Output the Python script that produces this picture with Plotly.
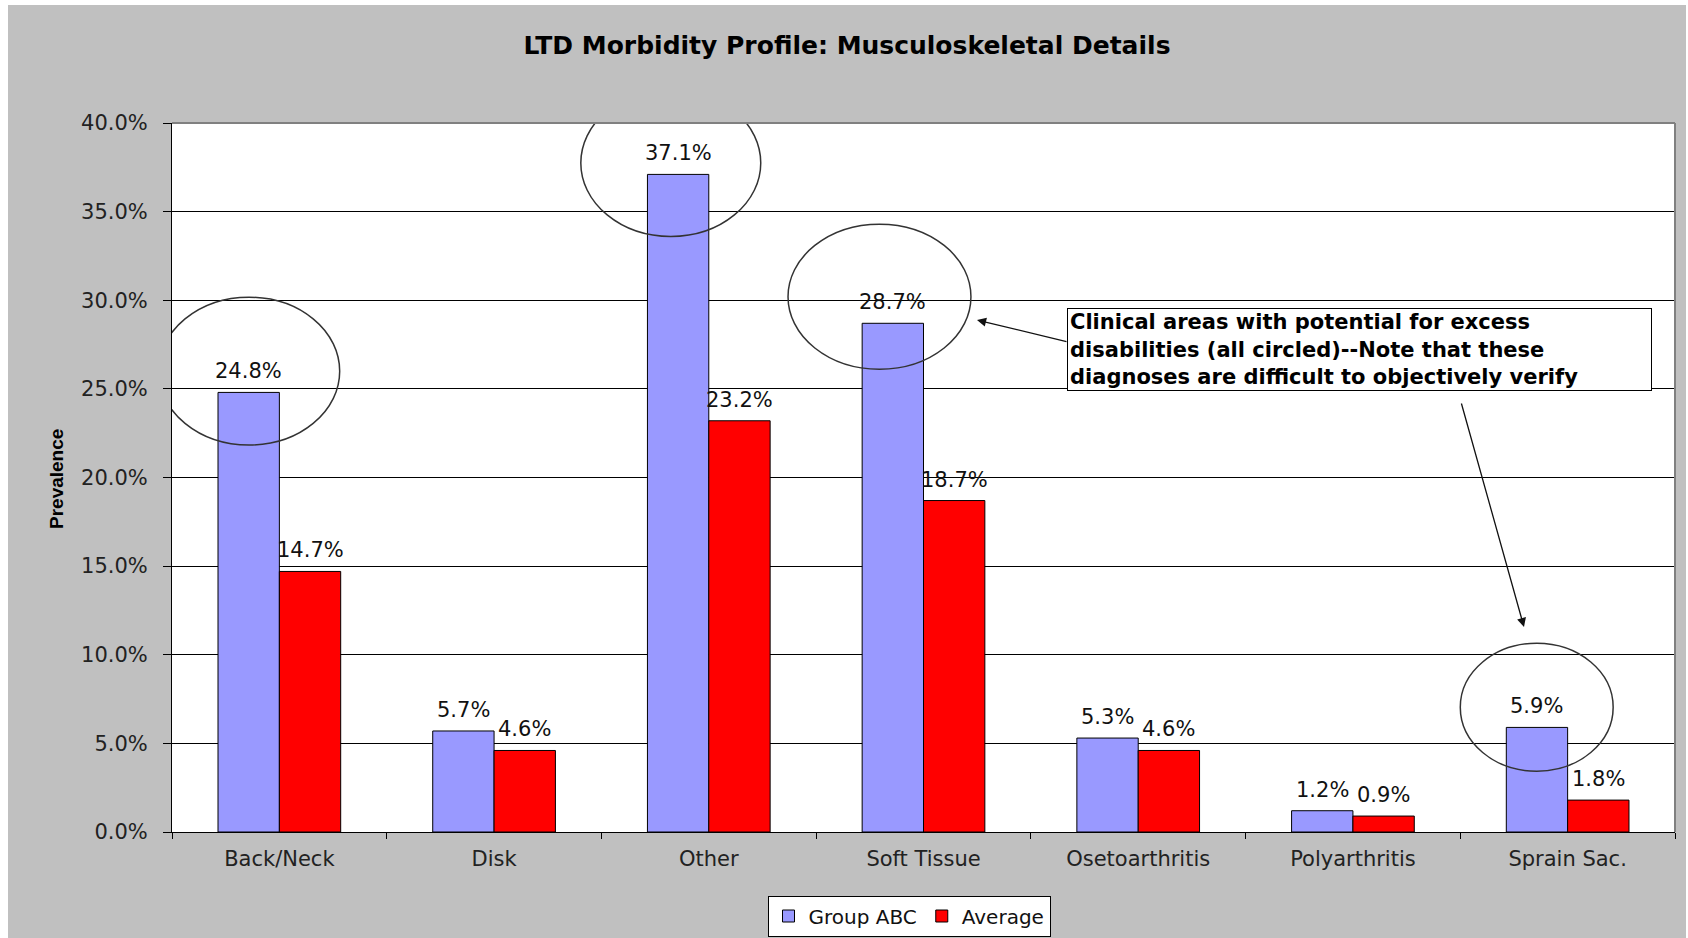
import plotly.graph_objects as go

# ---- data -------------------------------------------------------------
categories = ["Back/Neck", "Disk", "Other", "Soft Tissue",
              "Osetoarthritis", "Polyarthritis", "Sprain Sac."]
group_abc = [24.8, 5.7, 37.1, 28.7, 5.3, 1.2, 5.9]
average = [14.7, 4.6, 23.2, 18.7, 4.6, 0.9, 1.8]
y_ticks = [0, 5, 10, 15, 20, 25, 30, 35, 40]
y_tick_labels = [f"{v:.1f}%" for v in y_ticks]
circled = ["Back/Neck", "Other", "Soft Tissue", "Sprain Sac."]
note_text = ("Clinical areas with potential for excess<br>"
             "disabilities (all circled)--Note that these<br>"
             "diagnoses are difficult to objectively verify")

# ---- figure geometry (pixels) ------------------------------------------
W, H = 1688, 938
L, R, T, B = 172, 13, 123, 106
PW, PH = W - L - R, H - T - B

def xp(px):
    return (px - L) / PW

def yp(py):
    return (H - B - py) / PH

BLUE = "#9999FF"
RED = "#FF0000"
GREY_BG = "#C0C0C0"
FONT = "DejaVu Sans"
BARGAP = 1.5 / 3.5            # 150% gap width
HALF = (1 - BARGAP) / 4       # offset of each bar centre from category centre

fig = go.Figure()
fig.add_trace(go.Bar(name="Group ABC", x=categories, y=group_abc,
                     marker=dict(color=BLUE, line=dict(color="black", width=1))))
fig.add_trace(go.Bar(name="Average", x=categories, y=average,
                     marker=dict(color=RED, line=dict(color="black", width=1))))

annotations = []
# value labels above each bar
for vals, off in ((group_abc, -HALF), (average, HALF)):
    for i, v in enumerate(vals):
        annotations.append(dict(x=i + off, y=v, xref="x", yref="y",
                                text=f"{v:.1f}%", showarrow=False,
                                xanchor="center", yanchor="bottom", yshift=7,
                                font=dict(family=FONT, size=21, color="#111")))

# y axis title
annotations.append(dict(x=xp(56), y=yp(479), xref="paper", yref="paper",
                        xanchor="center", yanchor="middle",
                        text="<b>Prevalence</b>", textangle=-90, showarrow=False,
                        font=dict(family="Liberation Sans, Arial", size=19, color="black")))

# explanatory note box
annotations.append(dict(x=xp(1067), y=yp(308), xref="paper", yref="paper",
                        xanchor="left", yanchor="top", text=note_text,
                        align="left", showarrow=False, width=579, height=77,
                        bgcolor="white", bordercolor="black", borderwidth=1, borderpad=2,
                        font=dict(family=FONT, size=21, color="black", weight="bold")))

# arrows from the note
for hx, hy, ax, ay in ((977, 320, 91, 22), (1524, 627, -63, -225)):
    annotations.append(dict(x=xp(hx), y=yp(hy), xref="paper", yref="paper",
                            text="", showarrow=True, ax=ax, ay=ay,
                            arrowhead=2, arrowsize=1.4, arrowwidth=1.3,
                            arrowcolor="#111"))

shapes = []
# ellipses around highlighted bars: (dx from category centre, y offset over bar, half width, half height)
ellipse_geo = {
    "Back/Neck": (-0.141, 1.2, 0.422, 4.17),
    "Other": (-0.177, 0.65, 0.419, 4.15),
    "Soft Tissue": (-0.205, 1.5, 0.426, 4.09),
    "Sprain Sac.": (-0.144, 1.14, 0.356, 3.61),
}
for name in circled:
    i = categories.index(name)
    dx, dy, hw, hh = ellipse_geo[name]
    cx, cy = i + dx, group_abc[i] + dy
    shapes.append(dict(type="circle", xref="x", yref="y",
                       x0=cx - hw, x1=cx + hw, y0=cy - hh, y1=cy + hh,
                       line=dict(color="#333", width=1.5), layer="above"))

# grey plot-area frame on top and right
shapes.append(dict(type="line", xref="paper", yref="paper", x0=0, x1=1, y0=1, y1=1,
                   line=dict(color="#808080", width=2)))
shapes.append(dict(type="line", xref="paper", yref="paper", x0=1, x1=1, y0=0, y1=1,
                   line=dict(color="#808080", width=2)))
# thin white page border around the grey chart area
for x0, x1, y0, y1 in ((0, 8, 0, H), (0, W, 0, 5), (1686, W, 0, H)):
    shapes.append(dict(type="rect", xref="paper", yref="paper",
                       x0=xp(x0), x1=xp(x1), y0=yp(y1), y1=yp(y0),
                       line=dict(width=0), fillcolor="white", layer="above"))

fig.update_layout(
    width=W, height=H,
    margin=dict(l=L, r=R, t=T, b=B, pad=0, autoexpand=False),
    paper_bgcolor=GREY_BG, plot_bgcolor="white",
    barmode="group", bargap=BARGAP, bargroupgap=0,
    title=dict(text="<b>LTD Morbidity Profile: Musculoskeletal Details</b>",
               x=847 / W, xanchor="center", y=1 - 45 / H, yanchor="middle",
               xref="container", yref="container",
               font=dict(family=FONT, size=25, color="black")),
    font=dict(family=FONT, size=21, color="#222"),
    showlegend=True,
    legend=dict(orientation="h", x=909 / W, xanchor="center", xref="container",
                y=1 - 916 / H, yanchor="middle", yref="container",
                bgcolor="white", bordercolor="black", borderwidth=1,
                font=dict(family=FONT, size=20, color="#111"), itemwidth=30,
                traceorder="normal"),
    annotations=annotations,
    shapes=shapes,
)
fig.update_xaxes(type="category", range=[-0.5, len(categories) - 0.5],
                 showline=True, linecolor="black", linewidth=1,
                 ticks="outside", tickson="boundaries", ticklen=6, tickcolor="black",
                 ticklabelstandoff=8, showgrid=False,
                 tickfont=dict(family=FONT, size=21, color="#222"))
fig.update_yaxes(range=[0, 40], tickmode="array", tickvals=y_ticks, ticktext=y_tick_labels,
                 showline=True, linecolor="black", linewidth=1,
                 ticks="outside", ticklen=8, tickcolor="black", ticklabelstandoff=11,
                 showgrid=True, gridcolor="black", gridwidth=1, zeroline=False,
                 tickfont=dict(family=FONT, size=21, color="#222"))

fig.write_html("out.html")
